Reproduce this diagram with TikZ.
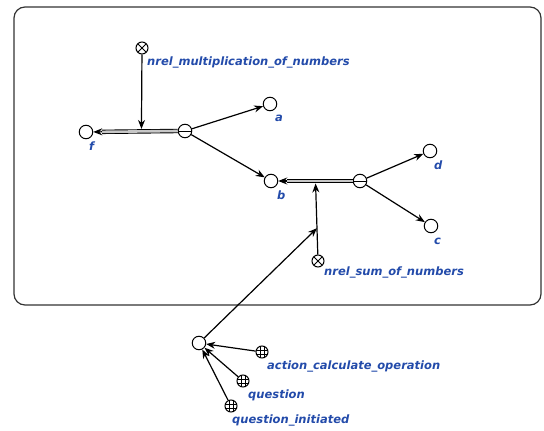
\documentclass[tikz,border=0pt]{standalone}
\usepackage{fontspec}
\newfontfamily\lblfont{DejaVu Sans}
\usetikzlibrary{arrows.meta,calc}
\definecolor{lblblue}{RGB}{35,75,170}
\begin{document}
\begin{tikzpicture}[x=1pt,y=-1pt,
  every node/.style={inner sep=0pt},
  vnode/.style={circle,draw,line width=1pt,minimum size=13.5pt},
  relnode/.style={vnode,path picture={\draw[line width=1pt] (path picture bounding box.west) -- (path picture bounding box.east);}},
  crossnode/.style={circle,draw,line width=1pt,minimum size=12pt,
    path picture={\draw[line width=1pt] (path picture bounding box.south west) -- (path picture bounding box.north east)
      (path picture bounding box.north west) -- (path picture bounding box.south east);}},
  gridnode/.style={circle,draw,line width=1pt,minimum size=12pt,
    path picture={\draw[line width=0.8pt]
      ([xshift=-2pt]path picture bounding box.north) -- ([xshift=-2pt]path picture bounding box.south)
      ([xshift=2pt]path picture bounding box.north) -- ([xshift=2pt]path picture bounding box.south)
      ([yshift=-2pt]path picture bounding box.west) -- ([yshift=-2pt]path picture bounding box.east)
      ([yshift=2pt]path picture bounding box.west) -- ([yshift=2pt]path picture bounding box.east);}},
  lbl/.style={font=\lblfont\bfseries\itshape\fontsize{11.5}{13}\selectfont,text=lblblue,anchor=west},
  arr/.style={line width=1.2pt,-{Stealth[length=9pt,width=7pt]}},
  pairline/.style={line width=0.9pt,double=black!22,double distance=2.6pt},
  frame/.style={line width=1.2pt,draw=black!80,rounded corners=11pt}
]
\useasboundingbox (0,0) rectangle (544,431);
\draw[frame] (14,7) rectangle (541,305);

% nodes
\node[crossnode] (m) at (142,48) {};
\node[vnode] (f) at (86,132) {};
\node[relnode] (r1) at (185,131) {};
\node[vnode] (a) at (270,104) {};
\node[vnode] (b) at (271,181) {};
\node[relnode] (r2) at (360,181) {};
\node[vnode] (d) at (430,151) {};
\node[vnode] (c) at (431,226) {};
\node[crossnode] (s) at (318,261) {};
\node[vnode] (q) at (199,343) {};
\node[gridnode] (g1) at (262,352) {};
\node[gridnode] (g2) at (243,381) {};
\node[gridnode] (g3) at (231,406) {};

% labels
\node[lbl] (lm) at (147,62) {nrel\_multiplication\_of\_numbers};
\node[lbl] (lf) at (89,146) {f};
\node[lbl] (la) at (275,118) {a};
\node[lbl] (lb) at (277,195) {b};
\node[lbl] (ld) at (434,165) {d};
\node[lbl] (lc) at (434,241) {c};
\node[lbl] (ls) at (324,272) {nrel\_sum\_of\_numbers};
\node[lbl] (lg1) at (267,366) {action\_calculate\_operation};
\node[lbl] (lg2) at (248,395) {question};
\node[lbl] (lg3) at (232,420) {question\_initiated};

% pair f <- r1
\coordinate (fa) at ($(f)!16pt!(r1)$);
\draw[pairline] (r1.west) -- (fa);
\draw[arr] (fa) -- (f);
\coordinate (m1) at ($(r1)!0.44!(f)$);
\draw[arr,shorten >=2.5pt] (m) -- (m1);
\draw[arr] (r1) -- (a);
\draw[arr] (r1) -- (b);

% pair b <- r2
\coordinate (ba) at ($(b)!16pt!(r2)$);
\draw[pairline] (r2.west) -- (ba);
\draw[arr] (ba) -- (b);
\coordinate (m2) at ($(r2)!0.5!(b)$);
\draw[arr,shorten >=2.5pt] (s) -- (m2);
\draw[arr] (r2) -- (d);
\draw[arr] (r2) -- (c);

% question arc
\coordinate (m3) at ($(s)!0.41!(m2)$);
\draw[arr] (q) -- (m3);
\draw[arr] (g1) -- (q);
\draw[arr] (g2) -- (q);
\draw[arr] (g3) -- (q);
\end{tikzpicture}
\end{document}
